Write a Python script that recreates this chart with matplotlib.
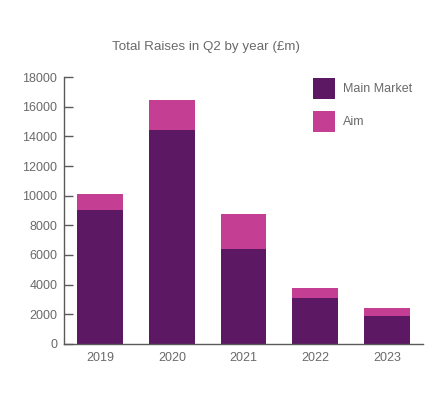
import matplotlib
matplotlib.use('Agg')
import matplotlib.pyplot as plt
import numpy as np

years = ['2019', '2020', '2021', '2022', '2023']
main_market = [9000, 14450, 6400, 3100, 1900]
aim = [1100, 2000, 2350, 650, 500]

main_color = '#5c1863'
aim_color = '#c43f93'
text_color = '#6a6a6a'
axis_color = '#5a5a5a'

plt.rcParams['font.family'] = ['Liberation Sans', 'DejaVu Sans']

fig = plt.figure(figsize=(4.39, 3.96), dpi=100)
ax = fig.add_axes([0.1465, 0.132, 0.8165, 0.673])

x = np.arange(len(years))
ax.bar(x, main_market, width=0.64, color=main_color, label='Main Market')
ax.bar(x, aim, width=0.64, bottom=main_market, color=aim_color, label='Aim')

ax.set_xlim(-0.5, 4.5)
ax.set_ylim(0, 18000)
ax.set_yticks(np.arange(0, 18001, 2000))
ax.set_xticks(x)
ax.set_xticklabels(years)

for side in ['top', 'right']:
    ax.spines[side].set_visible(False)
for side in ['left', 'bottom']:
    ax.spines[side].set_color(axis_color)
    ax.spines[side].set_linewidth(1.0)

ax.tick_params(axis='y', direction='in', length=6.5, width=1.0, color=axis_color,
               labelsize=9, labelcolor=text_color, pad=5)
ax.tick_params(axis='x', length=0, labelsize=9, labelcolor=text_color, pad=6)

fig.text(0.4685, 0.882, 'Total Raises in Q2 by year (£m)', ha='center', va='center',
         fontsize=9.6, color=text_color)

# legend box sizes in px -> matplotlib legend units
fs = 9
fs_px = fs * 100 / 72
box_h = 21 / fs_px
hh = (box_h - 0.245) / 0.65
fig.legend(*ax.get_legend_handles_labels(), loc='upper left',
           bbox_to_anchor=(313 / 439, 1 - 78 / 396), bbox_transform=fig.transFigure,
           frameon=False, borderpad=0, borderaxespad=0,
           handlelength=22.5 / fs_px, handleheight=hh, handletextpad=7.5 / fs_px,
           labelspacing=12 / fs_px, fontsize=fs, labelcolor=text_color)

fig.savefig('out.png', dpi=100)
